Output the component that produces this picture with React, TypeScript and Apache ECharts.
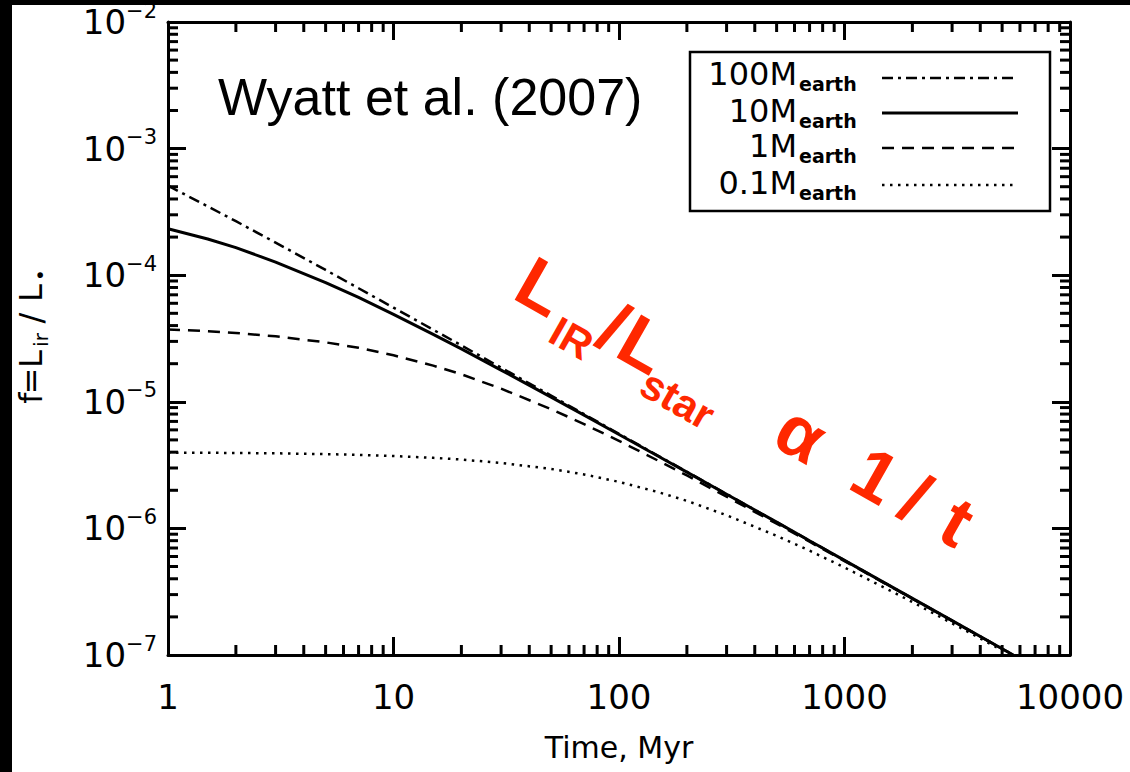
import React, { useEffect, useRef } from 'react';
import * as echarts from 'echarts';

// ---- data ----
const TIME = [1, 1.5, 2, 3, 5, 7, 10, 15, 20, 30, 50, 70, 100, 150, 200, 300, 500, 700, 1000, 1500, 2000, 3000, 5000, 5600];
const F_100 = [5.09e-4, 3.5e-4, 2.67e-4, 1.81e-4, 1.1e-4, 7.89e-5, 5.54e-5, 3.71e-5, 2.79e-5, 1.86e-5, 1.12e-5, 7.99e-6, 5.59e-6, 3.73e-6, 2.8e-6, 1.87e-6, 1.12e-6, 8.0e-7, 5.6e-7, 3.73e-7, 2.8e-7, 1.87e-7, 1.12e-7, 1.0e-7];
const F_10 = [2.33e-4, 1.93e-4, 1.65e-4, 1.27e-4, 8.75e-5, 6.67e-5, 4.91e-5, 3.41e-5, 2.62e-5, 1.78e-5, 1.09e-5, 7.84e-6, 5.52e-6, 3.7e-6, 2.78e-6, 1.86e-6, 1.12e-6, 7.98e-7, 5.59e-7, 3.73e-7, 2.8e-7, 1.87e-7, 1.12e-7, 1.0e-7];
const F_1 = [3.73e-5, 3.61e-5, 3.5e-5, 3.29e-5, 2.95e-5, 2.67e-5, 2.33e-5, 1.93e-5, 1.65e-5, 1.27e-5, 8.75e-6, 6.67e-6, 4.91e-6, 3.41e-6, 2.62e-6, 1.78e-6, 1.09e-6, 7.84e-7, 5.52e-7, 3.7e-7, 2.78e-7, 1.86e-7, 1.12e-7, 1.0e-7];
const F_01 = [3.97e-6, 3.96e-6, 3.94e-6, 3.92e-6, 3.86e-6, 3.81e-6, 3.73e-6, 3.61e-6, 3.5e-6, 3.29e-6, 2.95e-6, 2.67e-6, 2.33e-6, 1.93e-6, 1.65e-6, 1.27e-6, 8.75e-7, 6.67e-7, 4.91e-7, 3.41e-7, 2.62e-7, 1.78e-7, 1.09e-7, 9.75e-8];

const LEGEND_MASS = ['100', '10', '1', '0.1'];
const LEGEND_SUB = 'earth';

const X_MIN = 1;
const X_MAX = 10000;
const Y_MIN = 1e-7;
const Y_MAX = 1e-2;

const X_MINOR = [2, 3, 4, 5, 6, 7, 8, 9, 20, 30, 40, 50, 60, 70, 80, 90, 200, 300, 400, 500, 600, 700, 800, 900, 2000, 3000, 4000, 5000, 6000, 7000, 8000, 9000];
const Y_MINOR = [
  2e-7, 3e-7, 4e-7, 5e-7, 6e-7, 7e-7, 8e-7, 9e-7,
  2e-6, 3e-6, 4e-6, 5e-6, 6e-6, 7e-6, 8e-6, 9e-6,
  2e-5, 3e-5, 4e-5, 5e-5, 6e-5, 7e-5, 8e-5, 9e-5,
  2e-4, 3e-4, 4e-4, 5e-4, 6e-4, 7e-4, 8e-4, 9e-4,
  2e-3, 3e-3, 4e-3, 5e-3, 6e-3, 7e-3, 8e-3, 9e-3,
];

// ---- styles ----
const LINE_STYLES = [
  { dash: [11, 5, 3, 5] as any, width: 2.5 },
  { dash: 'solid' as any, width: 3 },
  { dash: [12, 8] as any, width: 2.5 },
  { dash: [2.5, 5.5] as any, width: 2.5 },
];
const SERIES_DATA = [F_100, F_10, F_1, F_01];

const RED = '#ff2800';
const AX_FONT = 'DejaVu Sans';
const MINOR_LEN = 10;
const MAJOR_LEN = 18;
const TICK_W = 3;

export default function App() {
  const ref = useRef<HTMLDivElement>(null);

  useEffect(() => {
    if (!ref.current) return;
    const chart = echarts.init(ref.current, null, { renderer: 'svg' });

    const mkAxisLine = () => ({ show: true, lineStyle: { color: '#000', width: 3 } });
    const mkAxisTick = () => ({ show: true, inside: true, length: MAJOR_LEN, lineStyle: { color: '#000', width: TICK_W } });

    const lineSeries = SERIES_DATA.map((arr, i) => ({
      type: 'line',
      name: LEGEND_MASS[i] + 'M' + LEGEND_SUB,
      data: TIME.map((t, k) => [t, arr[k]]),
      showSymbol: false,
      symbol: 'none',
      clip: true,
      lineStyle: { color: '#000', width: LINE_STYLES[i].width, type: LINE_STYLES[i].dash },
      z: 3,
    }));

    const option: any = {
      animation: false,
      backgroundColor: '#fff',
      grid: { left: 168, right: 60, top: 17, bottom: 117 },
      xAxis: [
        {
          type: 'log',
          min: X_MIN,
          max: X_MAX,
          axisLine: mkAxisLine(),
          axisTick: mkAxisTick(),
          splitLine: { show: false },
          axisLabel: {
            margin: 25,
            fontSize: 34,
            fontFamily: AX_FONT,
            color: '#000',
            formatter: (v: number) => String(Math.round(v)),
          },
          name: 'Time, Myr',
          nameLocation: 'middle',
          nameGap: 77,
          nameTextStyle: { fontSize: 30, fontFamily: AX_FONT, color: '#000' },
        },
        {
          type: 'log',
          min: X_MIN,
          max: X_MAX,
          position: 'top',
          axisLine: mkAxisLine(),
          axisTick: mkAxisTick(),
          splitLine: { show: false },
          axisLabel: { show: false },
        },
      ],
      yAxis: [
        {
          type: 'log',
          min: Y_MIN,
          max: Y_MAX,
          axisLine: mkAxisLine(),
          axisTick: mkAxisTick(),
          splitLine: { show: false },
          axisLabel: {
            margin: 11,
            color: '#000',
            formatter: (v: number) => {
              const e = Math.round(Math.log10(v));
              return '{b|10}{s|\u2212' + Math.abs(e) + '}';
            },
            rich: {
              b: { fontSize: 34, fontFamily: AX_FONT, color: '#000', lineHeight: 44 },
              s: { fontSize: 21, fontFamily: AX_FONT, color: '#000', verticalAlign: 'top' },
            },
          },
        },
        {
          type: 'log',
          min: Y_MIN,
          max: Y_MAX,
          position: 'right',
          axisLine: mkAxisLine(),
          axisTick: mkAxisTick(),
          splitLine: { show: false },
          axisLabel: { show: false },
        },
      ],
      series: lineSeries,
    };

    chart.setOption(option);

    // ---- minor ticks, placed through the axes' own scales ----
    const finder = { xAxisIndex: 0, yAxisIndex: 0 };
    const tick = (x1: number, y1: number, x2: number, y2: number) => ({
      type: 'line',
      shape: { x1, y1, x2, y2 },
      style: { stroke: '#000', lineWidth: TICK_W },
    });
    const ticks: any[] = [];
    X_MINOR.forEach((v) => {
      const b = chart.convertToPixel(finder, [v, Y_MIN]) as number[];
      const t = chart.convertToPixel(finder, [v, Y_MAX]) as number[];
      ticks.push(tick(b[0], b[1], b[0], b[1] - MINOR_LEN));
      ticks.push(tick(t[0], t[1], t[0], t[1] + MINOR_LEN));
    });
    Y_MINOR.forEach((v) => {
      const l = chart.convertToPixel(finder, [X_MIN, v]) as number[];
      const r = chart.convertToPixel(finder, [X_MAX, v]) as number[];
      ticks.push(tick(l[0], l[1], l[0] + MINOR_LEN, l[1]));
      ticks.push(tick(r[0], r[1], r[0] - MINOR_LEN, r[1]));
    });

    const big = 72;
    const sub = 42;
    const mid = (yb: number, size: number) => yb - 0.3465 * size;
    const redText = (text: string, x: number, yb: number, size: number, align: string) => ({
      type: 'text',
      x,
      y: mid(yb, size),
      style: {
        text,
        fill: RED,
        fontSize: size,
        fontWeight: 'bold',
        fontFamily: 'Liberation Sans, Arial, sans-serif',
        align,
        verticalAlign: 'middle',
      },
    });

    const yTitle = (text: string, cx: number, yb: number, size: number) => ({
      type: 'text',
      x: cx,
      y: mid(yb, size),
      style: { text, fill: '#000', fontSize: size, fontFamily: AX_FONT, align: 'center', verticalAlign: 'middle' },
    });

    const legendRowText = [74, 111, 146, 183];
    const legendRowLine = [78, 113, 148, 185];

    const legendGraphics: any[] = [
      {
        type: 'rect',
        shape: { x: 690, y: 52, width: 360, height: 159 },
        style: { fill: '#fff', stroke: '#000', lineWidth: 2.5 },
        z: 10,
      },
    ];
    LEGEND_MASS.forEach((m, i) => {
      legendGraphics.push({
        type: 'text',
        x: 797,
        y: legendRowText[i],
        z: 11,
        style: { text: m + 'M', fill: '#000', fontSize: 32, fontFamily: AX_FONT, align: 'right', verticalAlign: 'middle' },
      });
      legendGraphics.push({
        type: 'text',
        x: 799,
        y: legendRowText[i] + 10,
        z: 11,
        style: { text: LEGEND_SUB, fill: '#000', fontSize: 19, fontWeight: 'bold', fontFamily: AX_FONT, align: 'left', verticalAlign: 'middle' },
      });
      const ls = LINE_STYLES[i];
      legendGraphics.push({
        type: 'line',
        z: 11,
        shape: { x1: 882, y1: legendRowLine[i], x2: 1018, y2: legendRowLine[i] },
        style: { stroke: '#000', lineWidth: ls.width, lineDash: ls.dash === 'solid' ? null : ls.dash },
      });
    });

    chart.setOption({
      graphic: [
        ...ticks,
        { type: 'rect', shape: { x: 0, y: 0, width: 12, height: 772 }, style: { fill: '#000' }, z: 20 },
        { type: 'rect', shape: { x: 0, y: 0, width: 1130, height: 5 }, style: { fill: '#000' }, z: 20 },
        {
          type: 'text',
          x: 218,
          y: 97,
          z: 12,
          style: {
            text: 'Wyatt et al. (2007)',
            fill: '#000',
            fontSize: 52,
            fontFamily: 'Liberation Sans, Arial, sans-serif',
            align: 'left',
            verticalAlign: 'middle',
          },
        },
        ...legendGraphics,
        {
          type: 'group',
          x: 515,
          y: 300,
          rotation: -0.515,
          z: 12,
          children: [
            redText('L', -5, 0, big, 'left'),
            redText('IR', 47, 20, sub, 'left'),
            redText('/', 89, 0, big, 'left'),
            redText('L', 112, 0, big, 'left'),
            redText('star', 152, 21, sub, 'left'),
            redText('\u03b1', 315, 0, big, 'center'),
            redText('1', 400, 0, big, 'center'),
            redText('/', 446, 0, big, 'center'),
            redText('t', 494, 0, big, 'center'),
          ],
        },
        {
          type: 'group',
          x: 42,
          y: 403,
          rotation: Math.PI / 2,
          z: 12,
          children: [
            yTitle('f', 5, 0, 32),
            yTitle('=', 22, 0, 32),
            yTitle('L', 44, 0, 32),
            yTitle('ir', 63, 6, 20),
            yTitle('/', 85, 0, 32),
            yTitle('L', 110, 0, 32),
            yTitle('\u2022', 128, 5, 20),
          ],
        },
      ],
    });

    return () => chart.dispose();
  }, []);

  return <div ref={ref} style={{ position: 'fixed', left: 0, top: 0, width: 1130, height: 772 }} />;
}
